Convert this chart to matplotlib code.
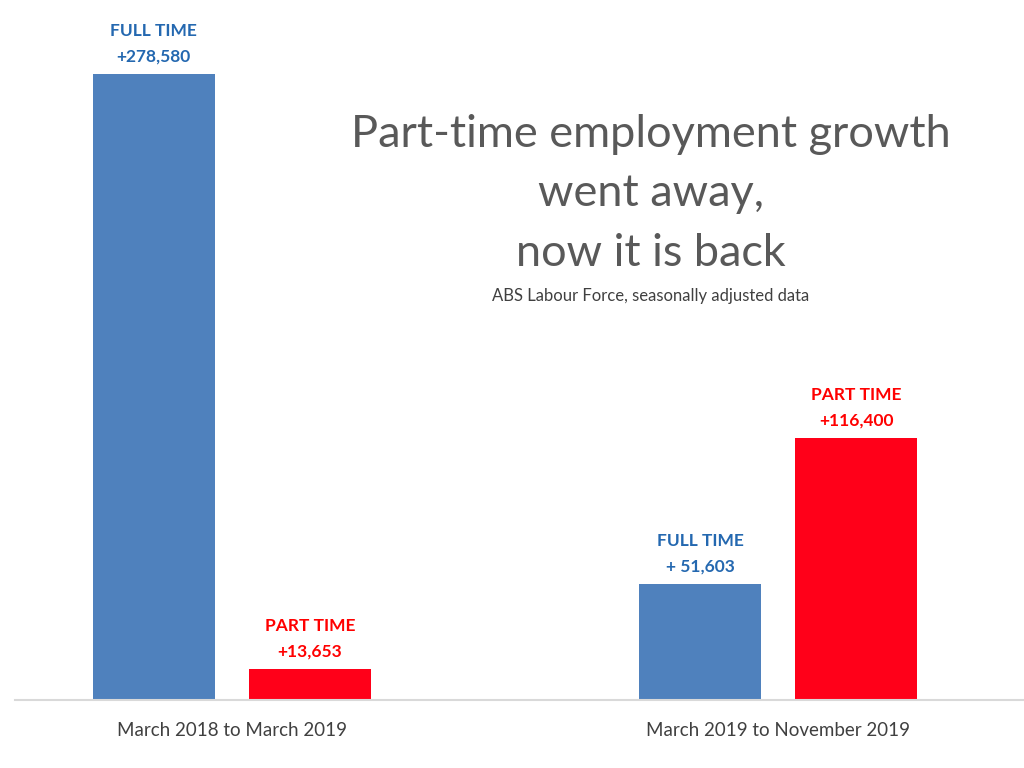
import numpy as np
import matplotlib.pyplot as plt

plt.rcParams['font.family'] = ['Lato', 'DejaVu Sans']

periods = ['March 2018 to March 2019', 'March 2019 to November 2019']
full_time = [278580, 51603]
part_time = [13653, 116400]
full_labels = ['FULL TIME\n+278,580', 'FULL TIME\n+ 51,603']
part_labels = ['PART TIME\n+13,653', 'PART TIME\n+116,400']

title = 'Part-time employment growth\nwent away,\nnow it is back'
subtitle = 'ABS Labour Force, seasonally adjusted data'

blue = '#4F81BD'
red = '#FF0019'
blue_txt = '#2468B0'
red_txt = '#FF0000'

fig = plt.figure(figsize=(10.24, 7.68), dpi=100)
ax = fig.add_axes([15/1024, 68/768, 1 - 15/1024, 700/768])

x = np.arange(len(periods))
w = 0.2234
off = 0.1429
b1 = ax.bar(x - off, full_time, w, color=blue)
b2 = ax.bar(x + off, part_time, w, color=red)

for bars, labels, col in [(b1, full_labels, blue_txt), (b2, part_labels, red_txt)]:
    for b, lab in zip(bars, labels):
        ax.annotate(lab, (b.get_x() + b.get_width()/2, b.get_height()),
                    xytext=(0, 7), textcoords='offset points',
                    ha='center', va='bottom', fontsize=12.5, fontweight='bold',
                    color=col, linespacing=1.75)

ax.set_xlim(-0.397, 1.45)
ax.set_ylim(0, 311500)
ax.set_xticks(x)
ax.set_xticklabels(periods, fontsize=13.5, color='#404040')
ax.tick_params(axis='x', length=0, pad=16)
ax.set_yticks([])
for s in ['top', 'right', 'left']:
    ax.spines[s].set_visible(False)
ax.spines['bottom'].set_color('#D9D9D9')
ax.spines['bottom'].set_linewidth(1.5)

fig.text(651/1024, 1 - 194/768, title, ha='center', va='center', fontsize=32.5,
         color='#595959', linespacing=1.57)
fig.text(651/1024, 1 - 296/768, subtitle, ha='center', va='center',
         fontsize=12, color='#404040')

fig.savefig('out.png', dpi=100, facecolor='white')
